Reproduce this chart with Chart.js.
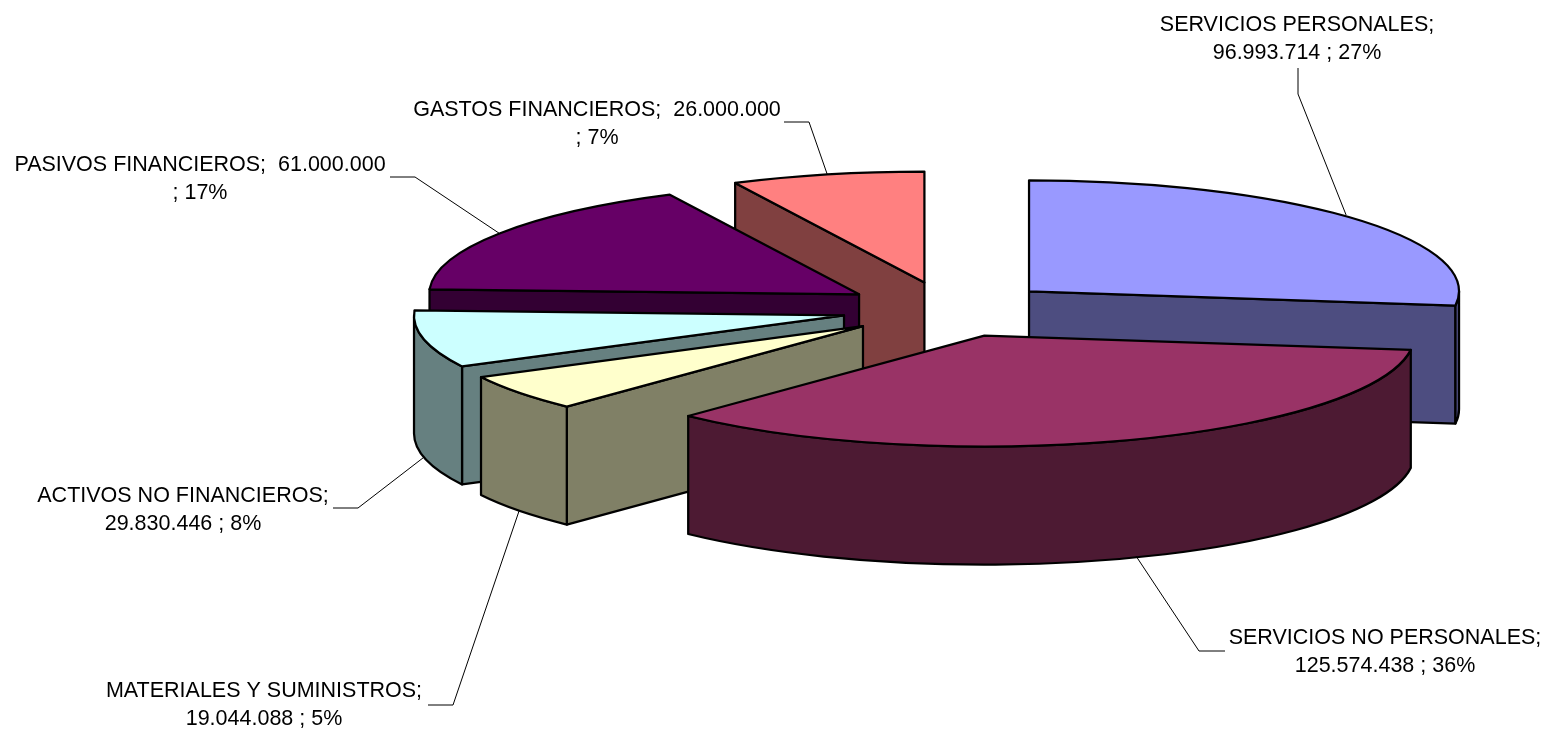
<!DOCTYPE html>
<html>
<head>
<meta charset="utf-8">
<title>Gastos por objeto</title>
<script src="https://cdn.jsdelivr.net/npm/chart.js@4"></script>
<style>
    html, body { margin: 0; padding: 0; background: #fff; overflow: hidden; }
    canvas { display: block; }
</style>
</head>
<body>
<canvas id="pieChart" width="1546" height="731"></canvas>
<script>
// Chart data
const categories = ['SERVICIOS PERSONALES', 'SERVICIOS NO PERSONALES', 'MATERIALES Y SUMINISTROS',
    'ACTIVOS NO FINANCIEROS', 'PASIVOS FINANCIEROS', 'GASTOS FINANCIEROS'];
const values = [96993714, 125574438, 19044088, 29830446, 61000000, 26000000];
const valueLabels = ['96.993.714', '125.574.438', '19.044.088', '29.830.446', '61.000.000', '26.000.000'];
const percentLabels = ['27%', '36%', '5%', '8%', '17%', '7%'];
const topColors = ['#9999ff', '#993366', '#ffffcc', '#ccffff', '#660066', '#ff8080'];
const sideColors = ['#4d4d80', '#4d1a33', '#808066', '#668080', '#330033', '#804040'];

// Page position of the squashed pie
const PIE_X = 948.6;
const PIE_Y = 309.5;
const RADIUS_X = 430;
const RADIUS_Y = 111;
const DEPTH = 118;

// Where each label goes: text centre, first line baseline, leader start and elbow,
// tip is a small correction of where the leader meets the slice
const labelSpots = [
    { x: 1297, y: 31, from: [1298, 68], elbow: [1298, 94], tip: [-6, -3] },
    { x: 1385, y: 644, from: [1225, 651], elbow: [1199, 651], tip: [8, -2] },
    { x: 264, y: 697, from: [428, 705], elbow: [453, 705], tip: [0, 0] },
    { x: 183, y: 502, from: [333, 508], elbow: [358, 508], tip: [0, 0] },
    { x: 200, y: 171, from: [390, 177], elbow: [415, 177], tip: [0, 0] },
    { x: 597, y: 116, from: [784, 122], elbow: [809, 122], tip: [0, 0] }
];

function labelLines(i) {
    // the two labels on the left wrap after the value in the original
    if (i === 4 || i === 5) {
        return [`${categories[i]};  ${valueLabels[i]}`, `; ${percentLabels[i]}`];
    }
    return [`${categories[i]};`, `${valueLabels[i]} ; ${percentLabels[i]}`];
}

// Turn an arc element into ellipse geometry on the page
function sliceShape(arc) {
    const mid = (arc.startAngle + arc.endAngle) / 2;
    // Chart.js moves a slice by offset / 4 along its bisector
    const shift = (arc.options.offset / 4) / arc.outerRadius;
    return {
        start: arc.startAngle,
        end: arc.endAngle,
        mid: mid,
        x: PIE_X + Math.cos(mid) * shift * RADIUS_X,
        y: PIE_Y + Math.sin(mid) * shift * RADIUS_Y
    };
}

function rimPoint(s, angle) {
    return [s.x + Math.cos(angle) * RADIUS_X, s.y + Math.sin(angle) * RADIUS_Y];
}

function paint(ctx, fill) {
    ctx.fillStyle = fill;
    ctx.fill();
    ctx.stroke();
}

function drawCutFace(ctx, s, angle, fill) {
    const p = rimPoint(s, angle);
    ctx.beginPath();
    ctx.moveTo(s.x, s.y);
    ctx.lineTo(p[0], p[1]);
    ctx.lineTo(p[0], p[1] + DEPTH);
    ctx.lineTo(s.x, s.y + DEPTH);
    ctx.closePath();
    paint(ctx, fill);
}

function drawSlice(ctx, s, i) {
    // only the cut faces turned towards the viewer
    if (Math.cos(s.start) < 0) drawCutFace(ctx, s, s.start, sideColors[i]);
    if (Math.cos(s.end) > 0) drawCutFace(ctx, s, s.end, sideColors[i]);

    // outer wall, only the part that faces the viewer
    const from = Math.max(s.start, 0);
    const to = Math.min(s.end, Math.PI);
    if (to > from) {
        ctx.beginPath();
        ctx.ellipse(s.x, s.y, RADIUS_X, RADIUS_Y, 0, from, to);
        ctx.ellipse(s.x, s.y + DEPTH, RADIUS_X, RADIUS_Y, 0, to, from, true);
        ctx.closePath();
        paint(ctx, sideColors[i]);
    }

    ctx.beginPath();
    ctx.moveTo(s.x, s.y);
    ctx.ellipse(s.x, s.y, RADIUS_X, RADIUS_Y, 0, s.start, s.end);
    ctx.closePath();
    paint(ctx, topColors[i]);
}

function drawLabel(ctx, s, i) {
    const spot = labelSpots[i];
    const end = rimPoint(s, s.mid);
    if (Math.sin(s.mid) > 0) end[1] += DEPTH;

    ctx.strokeStyle = '#000';
    ctx.lineWidth = 1;
    ctx.beginPath();
    ctx.moveTo(spot.from[0], spot.from[1]);
    ctx.lineTo(spot.elbow[0], spot.elbow[1]);
    ctx.lineTo(end[0] + spot.tip[0], end[1] + spot.tip[1]);
    ctx.stroke();

    ctx.fillStyle = '#000';
    ctx.font = '21.5px "Liberation Sans", Arial, sans-serif';
    ctx.textAlign = 'center';
    ctx.textBaseline = 'alphabetic';
    labelLines(i).forEach((line, n) => {
        ctx.fillText(line, spot.x, spot.y + n * 27.5);
    });
}

// Chart.js has no 3D pie, so take over the drawing of the arcs
const pie3d = {
    id: 'pie3d',
    beforeDatasetDraw(chart, args) {
        const ctx = chart.ctx;
        const shapes = args.meta.data.map(sliceShape);
        // paint back to front
        const order = shapes.map((s, i) => i).sort((a, b) => shapes[a].y - shapes[b].y);

        ctx.save();
        ctx.lineJoin = 'round';
        order.forEach(i => {
            ctx.strokeStyle = '#000';
            ctx.lineWidth = 2.25;
            drawSlice(ctx, shapes[i], i);
        });
        shapes.forEach((s, i) => drawLabel(ctx, s, i));
        ctx.restore();
        return false;
    }
};

new Chart(document.getElementById('pieChart'), {
    type: 'pie',
    data: {
        labels: categories,
        datasets: [{
            data: values,
            backgroundColor: topColors,
            borderWidth: 0,
            offset: 243
        }]
    },
    options: {
        responsive: false,
        animation: false,
        plugins: {
            legend: { display: false },
            tooltip: { enabled: false }
        }
    },
    plugins: [pie3d]
});
</script>
</body>
</html>
